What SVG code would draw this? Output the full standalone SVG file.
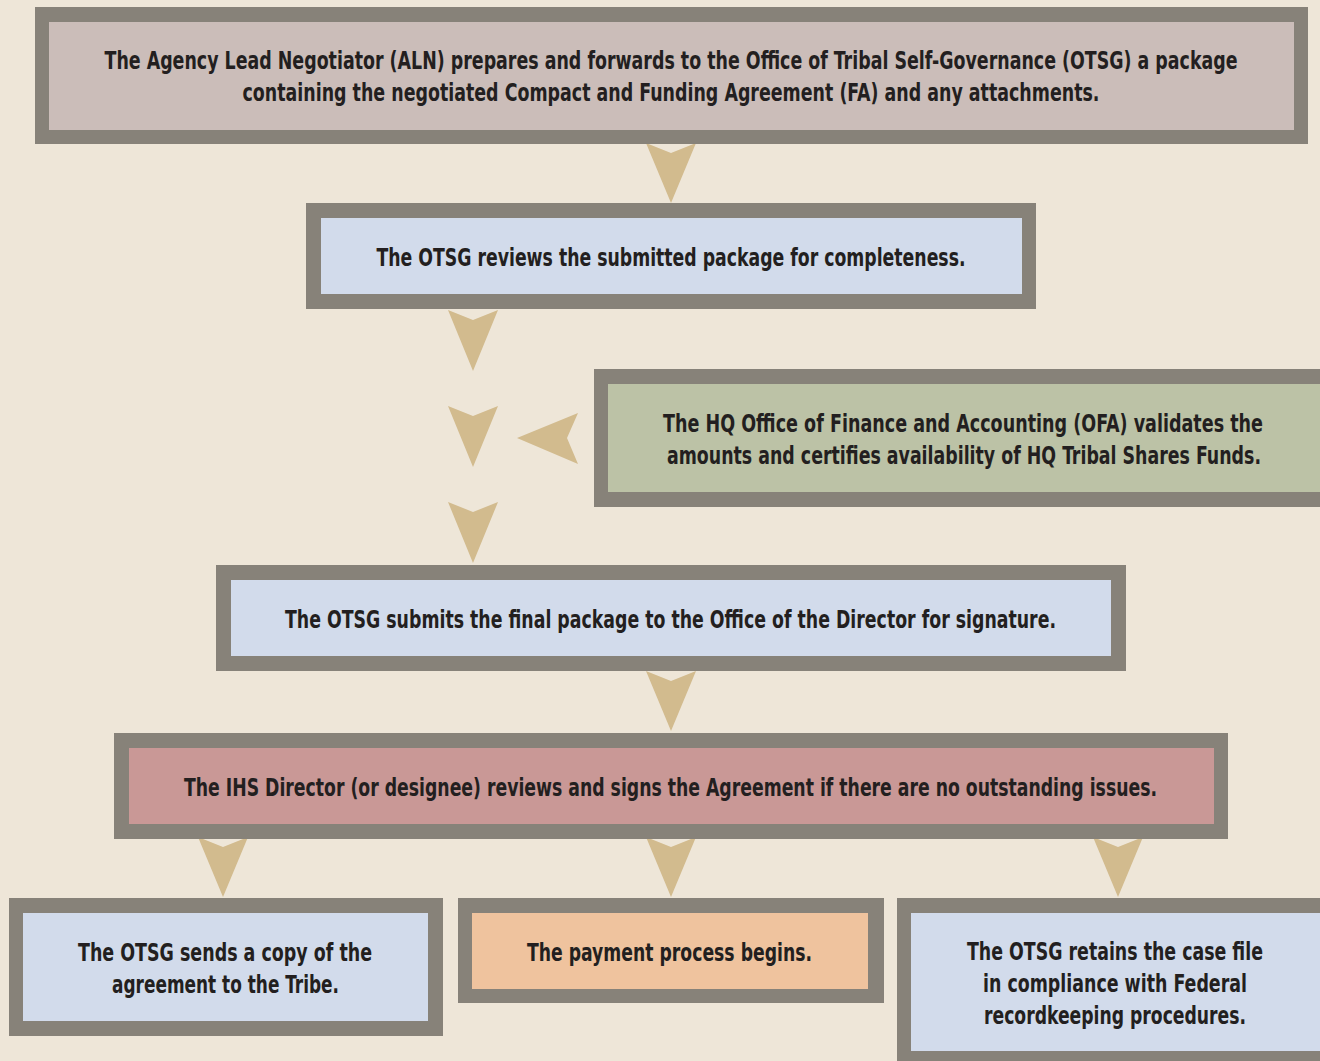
<svg xmlns="http://www.w3.org/2000/svg" width="1320" height="1061" viewBox="0 0 1320 1061">
<defs>
<style>
.frame{fill:#878279}
.t{font-family:"Liberation Sans Narrow","Arial Narrow","DejaVu Sans Condensed","Liberation Sans",sans-serif;font-weight:bold;font-size:24px;fill:#231f20;text-anchor:middle}
.arrow{fill:#d2bb8e}
.c1{fill:#cbbdb9}
.blue{fill:#d2dbeb}
.green{fill:#bcc2a6}
.red{fill:#c99896}
.orange{fill:#efc39e}
</style>
</defs>
<rect x="0" y="0" width="1320" height="1061" fill="#eee6d8"/>
<g id="connectors">
<polygon class="arrow" points="646,143 671,153 696,143 671,203"/>
<polygon class="arrow" points="448,310 473,320 498,310 473,371"/>
<polygon class="arrow" points="448,406 473,416 498,406 473,467"/>
<polygon class="arrow" points="448,502 473,512 498,502 473,563"/>
<polygon class="arrow" points="517,438 578,413 567,438 578,464"/>
<polygon class="arrow" points="646,671 671,681 696,671 671,731"/>
<polygon class="arrow" points="198,837 223,847 248,837 223,897"/>
<polygon class="arrow" points="646,837 671,847 696,837 671,897"/>
<polygon class="arrow" points="1093,837 1118,847 1143,837 1118,897"/>
</g>
<g id="node-aln">
<rect class="frame" x="35" y="7" width="1273" height="137"/>
<rect class="c1" x="49" y="22" width="1245" height="108"/>
<text class="t" x="671" y="69" textLength="1133" lengthAdjust="spacingAndGlyphs">The Agency Lead Negotiator (ALN) prepares and forwards to the Office of Tribal Self-Governance (OTSG) a package</text>
<text class="t" x="671" y="101" textLength="857" lengthAdjust="spacingAndGlyphs">containing the negotiated Compact and Funding Agreement (FA) and any attachments.</text>
</g>
<g id="node-review">
<rect class="frame" x="306" y="203" width="730" height="106"/>
<rect class="blue" x="321" y="218" width="701" height="76"/>
<text class="t" x="671" y="266" textLength="589" lengthAdjust="spacingAndGlyphs">The OTSG reviews the submitted package for completeness.</text>
</g>
<g id="node-ofa">
<rect class="frame" x="594" y="369" width="740" height="138"/>
<rect class="green" x="608" y="384" width="730" height="108"/>
<text class="t" x="963" y="432" textLength="600" lengthAdjust="spacingAndGlyphs">The HQ Office of Finance and Accounting (OFA) validates the</text>
<text class="t" x="964" y="464" textLength="594" lengthAdjust="spacingAndGlyphs">amounts and certifies availability of HQ Tribal Shares Funds.</text>
</g>
<g id="node-submit">
<rect class="frame" x="216" y="565" width="910" height="106"/>
<rect class="blue" x="231" y="580" width="880" height="76"/>
<text class="t" x="670.5" y="628" textLength="771" lengthAdjust="spacingAndGlyphs">The OTSG submits the final package to the Office of the Director for signature.</text>
</g>
<g id="node-director">
<rect class="frame" x="114" y="733" width="1114" height="106"/>
<rect class="red" x="129" y="748" width="1085" height="76"/>
<text class="t" x="670.5" y="796" textLength="973" lengthAdjust="spacingAndGlyphs">The IHS Director (or designee) reviews and signs the Agreement if there are no outstanding issues.</text>
</g>
<g id="node-tribe">
<rect class="frame" x="9" y="898" width="434" height="138"/>
<rect class="blue" x="23" y="913" width="405" height="108"/>
<text class="t" x="225" y="961" textLength="294" lengthAdjust="spacingAndGlyphs">The OTSG sends a copy of the</text>
<text class="t" x="225.5" y="993" textLength="227" lengthAdjust="spacingAndGlyphs">agreement to the Tribe.</text>
</g>
<g id="node-payment">
<rect class="frame" x="458" y="898" width="426" height="105"/>
<rect class="orange" x="472" y="913" width="396" height="76"/>
<text class="t" x="669.5" y="961" textLength="285" lengthAdjust="spacingAndGlyphs">The payment process begins.</text>
</g>
<g id="node-casefile">
<rect class="frame" x="897" y="898" width="440" height="180"/>
<rect class="blue" x="911" y="913" width="430" height="138"/>
<text class="t" x="1115" y="960" textLength="296" lengthAdjust="spacingAndGlyphs">The OTSG retains the case file</text>
<text class="t" x="1115" y="992" textLength="264" lengthAdjust="spacingAndGlyphs">in compliance with Federal</text>
<text class="t" x="1115" y="1024" textLength="262" lengthAdjust="spacingAndGlyphs">recordkeeping procedures.</text>
</g>
</svg>
